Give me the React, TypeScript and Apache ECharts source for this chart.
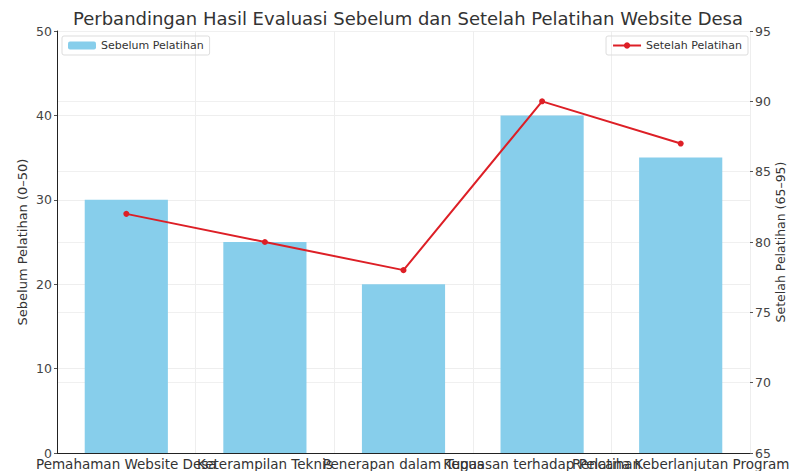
import React, { useEffect, useRef } from "react";
import * as echarts from "echarts";

const categories = [
  "Pemahaman Website Desa",
  "Keterampilan Teknis",
  "Penerapan dalam Tugas",
  "Kepuasan terhadap Pelatihan",
  "Rencana Keberlanjutan Program",
];
const sebelum = [30, 25, 20, 40, 35];
const setelah = [82, 80, 78, 90, 87];
const leftTicks = [0, 10, 20, 30, 40, 50];
const rightTicks = [65, 70, 75, 80, 85, 90, 95];

const FONT = "DejaVu Sans";

export default function App() {
  const ref = useRef<HTMLDivElement>(null);
  useEffect(() => {
    if (!ref.current) return;
    const chart = echarts.init(ref.current, undefined, { renderer: "svg" });
    chart.setOption({
      animation: false,
      textStyle: { fontFamily: FONT },
      title: {
        text: "Perbandingan Hasil Evaluasi Sebelum dan Setelah Pelatihan Website Desa",
        left: 403,
        textAlign: "center",
        top: 4,
        textStyle: { fontFamily: FONT, fontSize: 18, fontWeight: "normal", color: "#333" },
      },
      legend: [
        {
          data: ["Sebelum Pelatihan"],
          left: 62,
          top: 36,
          orient: "vertical",
          itemWidth: 28,
          itemHeight: 8,
          padding: [4, 6],
          borderColor: "#ddd",
          borderWidth: 1,
          borderRadius: 2,
          textStyle: { fontFamily: FONT, fontSize: 11, color: "#333" },
        },
        {
          data: ["Setelah Pelatihan"],
          right: 43,
          top: 36,
          orient: "vertical",
          itemWidth: 28,
          itemHeight: 8,
          padding: [4, 6],
          borderColor: "#ddd",
          borderWidth: 1,
          borderRadius: 2,
          textStyle: { fontFamily: FONT, fontSize: 11, color: "#333" },
        },
      ],
      grid: { left: 57, right: 41, top: 31, bottom: 18, containLabel: false, outerBoundsMode: "none" },
      xAxis: {
        type: "category",
        data: categories,
        axisLine: { lineStyle: { color: "#222" } },
        axisTick: { show: false },
        axisLabel: { interval: 0, fontFamily: FONT, fontSize: 13.5, color: "#333", margin: 4 },
        splitLine: { show: true, interval: 0, lineStyle: { color: "#eee" } },
      },
      yAxis: [
        {
          type: "value",
          min: leftTicks[0],
          max: leftTicks[leftTicks.length - 1],
          interval: 10,
          name: "Sebelum Pelatihan (0–50)",
          nameLocation: "middle",
          nameGap: 28,
          nameMoveOverlap: false,
          nameTextStyle: { fontFamily: FONT, fontSize: 13, color: "#333" },
          axisLine: { show: true, lineStyle: { color: "#222" } },
          axisTick: { show: true, length: 3, lineStyle: { color: "#555" } },
          axisLabel: { fontFamily: FONT, fontSize: 12.5, color: "#444", margin: 5 },
          splitLine: { show: true, lineStyle: { color: "#eee" } },
        },
        {
          type: "value",
          min: rightTicks[0],
          max: rightTicks[rightTicks.length - 1],
          interval: 5,
          name: "Setelah Pelatihan (65–95)",
          nameLocation: "middle",
          nameGap: 24,
          nameMoveOverlap: false,
          nameTextStyle: { fontFamily: FONT, fontSize: 12.5, color: "#333" },
          axisLine: { show: false },
          axisTick: { show: true, length: 3, lineStyle: { color: "#555" } },
          axisLabel: { fontFamily: FONT, fontSize: 12.5, color: "#444", margin: 5 },
          splitLine: { show: true, lineStyle: { color: "#f0f0f0" } },
        },
      ],
      series: [
        {
          name: "Sebelum Pelatihan",
          type: "bar",
          data: sebelum,
          barWidth: "60%",
          yAxisIndex: 0,
          itemStyle: { color: "#87CEEB" },
        },
        {
          name: "Setelah Pelatihan",
          type: "line",
          data: setelah,
          yAxisIndex: 1,
          symbol: "circle",
          symbolSize: 6,
          lineStyle: { color: "#dd1f26", width: 2 },
          itemStyle: { color: "#dd1f26" },
        },
      ],
    });
    return () => chart.dispose();
  }, []);
  return <div ref={ref} style={{ width: 791, height: 471, position: "absolute", left: 0, top: 0 }} />;
}
